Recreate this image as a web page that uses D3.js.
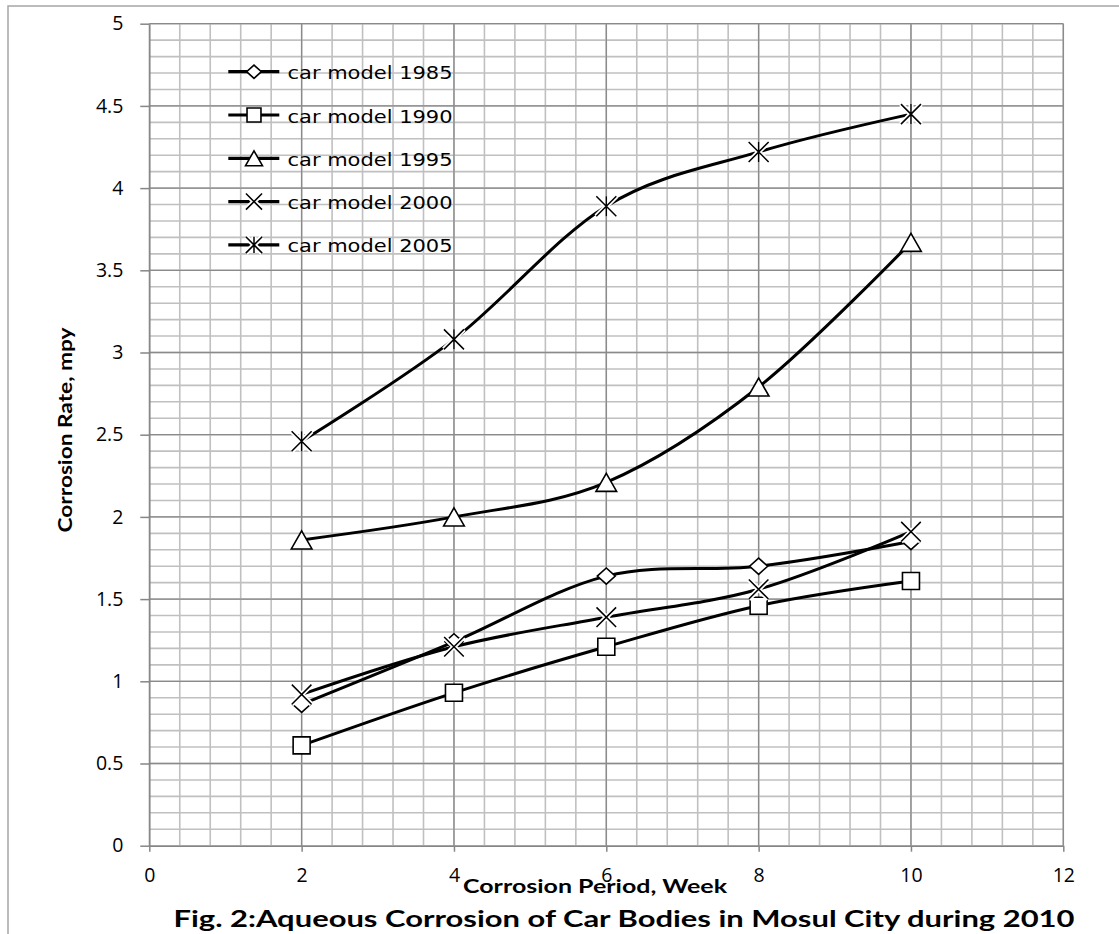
<!DOCTYPE html>
<html>
<head>
<meta charset="utf-8">
<script src="https://cdnjs.cloudflare.com/ajax/libs/d3/7.8.5/d3.min.js"></script>
<style>
  body { margin: 0; background: #fff; }
</style>
</head>
<body>
<div id="chart"></div>
<script>
// values
var weeks = [2, 4, 6, 8, 10];
var model1985 = [0.86, 1.24, 1.64, 1.70, 1.85];
var model1990 = [0.61, 0.93, 1.21, 1.46, 1.61];
var model1995 = [1.86, 2.00, 2.21, 2.79, 3.67];
var model2000 = [0.92, 1.21, 1.39, 1.56, 1.91];
var model2005 = [2.46, 3.08, 3.89, 4.22, 4.45];
var seriesNames = ["car model 1985", "car model 1990", "car model 1995", "car model 2000", "car model 2005"];
var markerTypes = ["diamond", "square", "triangle", "x", "star"];
var xTicks = [0, 2, 4, 6, 8, 10, 12];
var yTicks = [0, 0.5, 1, 1.5, 2, 2.5, 3, 3.5, 4, 4.5, 5];

var allSeries = [model1985, model1990, model1995, model2000, model2005];

var svg = d3.select("#chart").append("svg")
    .attr("width", 1119)
    .attr("height", 934);

// chart frame
svg.append("rect")
    .attr("x", 8).attr("y", 6)
    .attr("width", 1200).attr("height", 1000)
    .attr("fill", "none")
    .attr("stroke", "#a6a6a6")
    .attr("stroke-width", 1.5);

var x = d3.scaleLinear().domain([0, 12]).range([149.3, 1063.3]);
var y = d3.scaleLinear().domain([0, 5]).range([845.7, 23.7]);

// minor grid: 0.4 on x, 0.1 on y
var grid = svg.append("g");
grid.selectAll(".vminor")
    .data(d3.range(0, 31).map(function(i) { return i * 0.4; }))
    .join("line")
    .attr("x1", function(d) { return x(d); })
    .attr("x2", function(d) { return x(d); })
    .attr("y1", y(0)).attr("y2", y(5))
    .attr("stroke", "#c0c0c0")
    .attr("stroke-width", 1.6);
grid.selectAll(".hminor")
    .data(d3.range(0, 51).map(function(i) { return i / 10; }))
    .join("line")
    .attr("y1", function(d) { return y(d); })
    .attr("y2", function(d) { return y(d); })
    .attr("x1", x(0)).attr("x2", x(12))
    .attr("stroke", "#c0c0c0")
    .attr("stroke-width", 1.6);

// major grid
grid.selectAll(".vmajor")
    .data(xTicks.slice(1))
    .join("line")
    .attr("x1", function(d) { return x(d); })
    .attr("x2", function(d) { return x(d); })
    .attr("y1", y(0)).attr("y2", y(5))
    .attr("stroke", "#8a8a8a")
    .attr("stroke-width", 1.3);
grid.selectAll(".hmajor")
    .data(yTicks.slice(1))
    .join("line")
    .attr("y1", function(d) { return y(d); })
    .attr("y2", function(d) { return y(d); })
    .attr("x1", x(0)).attr("x2", x(12))
    .attr("stroke", "#8a8a8a")
    .attr("stroke-width", 1.3);

// axes
var yAxis = svg.append("g")
    .attr("transform", "translate(" + x(0) + ",0)")
    .call(d3.axisLeft(y).tickValues(yTicks).tickFormat(d3.format("~g"))
        .tickSize(9).tickSizeOuter(0).tickPadding(17));
var xAxis = svg.append("g")
    .attr("transform", "translate(0," + y(0) + ")")
    .call(d3.axisBottom(x).tickValues(xTicks).tickFormat(d3.format("~g"))
        .tickSize(6).tickSizeOuter(0).tickPadding(16));

[yAxis, xAxis].forEach(function(ax) {
    ax.attr("font-size", null).attr("font-family", null);
    ax.select(".domain").attr("stroke", "#868686").attr("stroke-width", 1.5);
    ax.selectAll(".tick line").attr("stroke", "#868686").attr("stroke-width", 1.5);
    ax.selectAll("text")
        .style("font-family", "'Open Sans', sans-serif")
        .style("font-size", "19.5px")
        .attr("fill", "#000");
});

// marker shapes
function markerPath(type, s) {
    if (type === "diamond") {
        return "M0," + (-s * 0.9) + "L" + s + ",0L0," + (s * 0.9) + "L" + (-s) + ",0Z";
    }
    if (type === "square") {
        return "M" + (-s) + "," + (-s) + "H" + s + "V" + s + "H" + (-s) + "Z";
    }
    if (type === "triangle") {
        return "M0," + (-s * 1.05) + "L" + (s * 1.2) + "," + (s * 1.05) + "L" + (-s * 1.2) + "," + (s * 1.05) + "Z";
    }
    if (type === "x") {
        return "M" + (-s) + "," + (-s) + "L" + s + "," + s + "M" + s + "," + (-s) + "L" + (-s) + "," + s;
    }
    // star: x plus a vertical bar
    return "M" + (-s) + "," + (-s) + "L" + s + "," + s + "M" + s + "," + (-s) + "L" + (-s) + "," + s +
        "M0," + (-s) + "V" + s;
}
var markerSize = { diamond: 9, square: 8.5, triangle: 8.6, x: 9.8, star: 10 };

function drawMarker(sel, type, s) {
    if (type === "x" || type === "star") {
        sel.append("path").attr("d", markerPath(type, s))
            .attr("fill", "none").attr("stroke", "#fff").attr("stroke-width", 5);
        sel.append("path").attr("d", markerPath(type, s))
            .attr("fill", "none").attr("stroke", "#000").attr("stroke-width", 1.5);
    } else {
        sel.append("path").attr("d", markerPath(type, s))
            .attr("fill", "#fff").attr("stroke", "#000").attr("stroke-width", 1.6);
    }
}

// smoothed series lines
var line = d3.line()
    .x(function(d, i) { return x(weeks[i]); })
    .y(function(d) { return y(d); })
    .curve(d3.curveCardinal.tension(0));

var plot = svg.append("g");
allSeries.forEach(function(vals, k) {
    plot.append("path")
        .attr("d", line(vals))
        .attr("fill", "none")
        .attr("stroke", "#000")
        .attr("stroke-width", 3);
    vals.forEach(function(v, i) {
        var m = plot.append("g")
            .attr("transform", "translate(" + x(weeks[i]) + "," + y(v) + ")");
        drawMarker(m, markerTypes[k], markerSize[markerTypes[k]]);
    });
});

// legend
var legend = svg.append("g");
seriesNames.forEach(function(name, k) {
    var row = legend.append("g")
        .attr("transform", "translate(0," + (71.7 + k * 43.3) + ")");
    row.append("line")
        .attr("x1", 228.3).attr("x2", 279.3)
        .attr("y1", 0).attr("y2", 0)
        .attr("stroke", "#000").attr("stroke-width", 3.2);
    var m = row.append("g").attr("transform", "translate(254,0)");
    drawMarker(m, markerTypes[k], markerSize[markerTypes[k]] * 0.82);
    row.append("text")
        .attr("x", 287.5).attr("y", 7.5)
        .attr("font-family", "DejaVu Sans, sans-serif")
        .attr("font-size", 18.5)
        .attr("textLength", 165)
        .attr("lengthAdjust", "spacingAndGlyphs")
        .text(name);
});

// titles
svg.append("text")
    .attr("transform", "translate(72,430) rotate(-90)")
    .attr("text-anchor", "middle")
    .attr("font-family", "Lato, sans-serif")
    .attr("font-weight", "bold")
    .attr("font-size", 19)
    .attr("textLength", 205)
    .attr("lengthAdjust", "spacingAndGlyphs")
    .text("Corrosion Rate, mpy");

svg.append("text")
    .attr("x", 595).attr("y", 893)
    .attr("text-anchor", "middle")
    .attr("font-family", "Lato, sans-serif")
    .attr("font-weight", "bold")
    .attr("font-size", 18)
    .attr("textLength", 264)
    .attr("lengthAdjust", "spacingAndGlyphs")
    .text("Corrosion Period, Week");

svg.append("text")
    .attr("x", 624).attr("y", 926.5)
    .attr("text-anchor", "middle")
    .attr("font-family", "Lato, sans-serif")
    .attr("font-weight", "bold")
    .attr("font-size", 23)
    .attr("textLength", 901)
    .attr("lengthAdjust", "spacingAndGlyphs")
    .text("Fig. 2:Aqueous Corrosion of Car Bodies in Mosul City during 2010");
</script>
</body>
</html>
